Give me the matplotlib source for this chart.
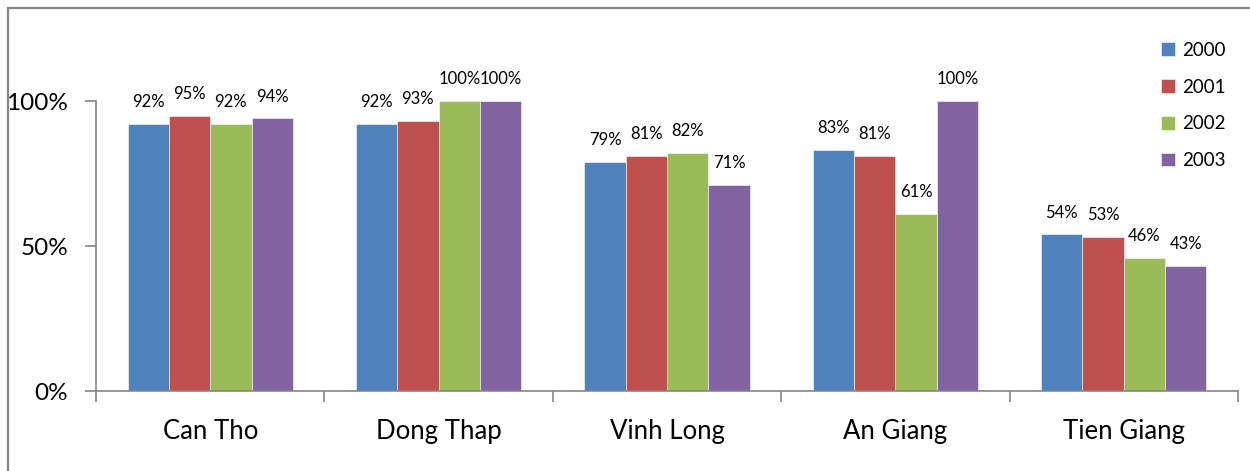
import matplotlib
matplotlib.use("Agg")
import matplotlib.pyplot as plt
from matplotlib.patches import Rectangle
import numpy as np

plt.rcParams['font.family'] = ['Lato', 'DejaVu Sans']

provinces = ["Can Tho", "Dong Thap", "Vinh Long", "An Giang", "Tien Giang"]
years = ["2000", "2001", "2002", "2003"]
share_2000 = [92, 92, 79, 83, 54]
share_2001 = [95, 93, 81, 81, 53]
share_2002 = [92, 100, 82, 61, 46]
share_2003 = [94, 100, 71, 100, 43]
series = [share_2000, share_2001, share_2002, share_2003]
colors = ["#4F81BD", "#C0504D", "#9BBB59", "#8064A2"]

fig = plt.figure(figsize=(12.5, 4.71), dpi=100)
ax = fig.add_axes([96/1250, 80/471, (1238-96)/1250, 290/471])

# outer chart frame
fig.patches.append(Rectangle((8/1250, -0.05), 1.1, (471-8)/471 + 0.05,
                             transform=fig.transFigure, fill=False,
                             edgecolor="#868686", linewidth=1.6))

x = np.arange(len(provinces))
bw = 0.181
offsets = (np.arange(4) - 1.5) * bw
for vals, off, col, yr in zip(series, offsets, colors, years):
    v = np.array(vals) / 100
    bars = ax.bar(x + off, v, width=bw, color=col, label=yr,
                  edgecolor="white", linewidth=0.4)
    for b, val in zip(bars, vals):
        ax.annotate(f"{val}%", (b.get_x() + b.get_width()/2, b.get_height()),
                    xytext=(0, 10), textcoords="offset points",
                    ha="center", va="bottom", fontsize=12, clip_on=False)

ax.set_xlim(-0.5, len(provinces) - 0.5)
ax.set_ylim(0, 1)
ax.set_yticks([0, 0.5, 1.0])
ax.set_yticklabels(["0%", "50%", "100%"], fontsize=17.5)
ax.set_xticks(x)
ax.set_xticklabels(provinces, fontsize=18.5)
ax.set_xticks(np.arange(len(provinces) + 1) - 0.5, minor=True)
ax.tick_params(axis="x", which="major", length=0, pad=20)
ax.tick_params(axis="x", which="minor", length=8, width=1.2, color="#868686", direction="out")
ax.tick_params(axis="y", length=8, width=1.2, color="#868686", direction="out", pad=12)

for s in ["top", "right"]:
    ax.spines[s].set_visible(False)
for s in ["left", "bottom"]:
    ax.spines[s].set_color("#868686")
    ax.spines[s].set_linewidth(1.2)

handles, labels = ax.get_legend_handles_labels()
fig.legend(handles, labels, loc="upper left", bbox_to_anchor=(1144/1250, 1 - 25/471),
           frameon=False, fontsize=13.5, handlelength=0.75, handleheight=0.75,
           handletextpad=0.4, labelspacing=1.05)

fig.savefig("out.png", dpi=100)
